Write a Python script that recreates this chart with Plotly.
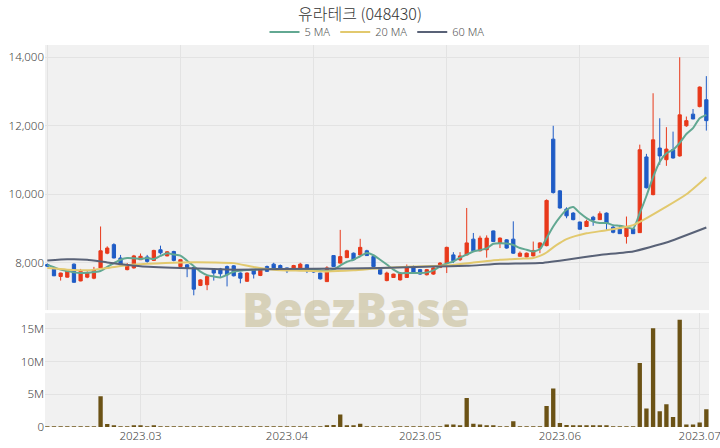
import pandas as pd
import plotly.graph_objects as go

# ---- trading calendar (categories) ----
holidays = ["2023-03-01", "2023-05-01", "2023-05-05", "2023-06-06"]
dates = [d.strftime("%Y-%m-%d") for d in pd.bdate_range("2023-02-09", "2023-07-04")
         if d.strftime("%Y-%m-%d") not in holidays]

# ---- OHLC ----
opens = [7950, 7820, 7600, 7580, 7960, 7470, 7580, 7550, 7850, 8280,
         8530, 8140, 7800, 7850, 8090, 8170, 8070, 8380, 8200, 8330,
         7890, 7940, 7860, 7340, 7360, 7800, 7820, 7890, 7910, 7700,
         7460, 7800, 7630, 7890, 7960, 7920, 7850, 7820, 7850, 7940,
         7800, 7700, 7450, 8210, 7990, 8150, 8280, 8230, 8350, 8180,
         7850, 7480, 7570, 7500, 7570, 7890, 7800, 7650, 7670, 7860,
         7990, 8230, 8090, 8230, 8690, 8350, 8380, 8930, 8580, 8670,
         8690, 8190, 8170, 8200, 8430, 8500, 11610, 10100, 9570, 9450,
         9190, 9060, 9330, 9260, 9450, 9040, 8980, 8770, 8990, 8880,
         11090, 9990, 11350, 11010, 11300, 11120, 12000, 12340, 12560, 12760]
highs = [7980, 7830, 7710, 7780, 7980, 7820, 7750, 7880, 9060, 8480,
         8570, 8230, 7990, 8230, 8270, 8230, 8380, 8500, 8340, 8350,
         8100, 7960, 7880, 7520, 7640, 7820, 7850, 7920, 7930, 7720,
         7720, 7810, 7820, 7920, 8000, 7950, 7860, 7940, 8000, 7960,
         7810, 7710, 7900, 8220, 8960, 8380, 8300, 8700, 8380, 8200,
         7860, 7740, 7680, 7700, 7950, 7920, 7820, 7820, 7870, 8020,
         8470, 8310, 8310, 9600, 8870, 8790, 8800, 8940, 8740, 8690,
         9210, 8330, 8300, 8620, 8600, 9850, 12000, 10120, 9620, 9480,
         9200, 9260, 9370, 9500, 9470, 9080, 9100, 9350, 9000, 11450,
         11180, 12950, 12220, 11960, 11830, 14000, 12270, 12490, 13150, 13450]
lows = [7880, 7610, 7480, 7570, 7420, 7460, 7550, 7520, 7840, 8250,
        8130, 7930, 7780, 7830, 8080, 8000, 8050, 8240, 8190, 8040,
        7880, 7580, 7050, 7320, 7200, 7480, 7580, 7310, 7600, 7400,
        7440, 7540, 7610, 7730, 7830, 7760, 7700, 7810, 7840, 7700,
        7710, 7510, 7440, 7880, 7980, 8140, 8070, 8220, 8200, 7880,
        7650, 7460, 7560, 7480, 7560, 7680, 7650, 7630, 7650, 7850,
        7700, 7990, 8050, 8220, 8330, 8330, 8150, 8610, 8430, 8410,
        8260, 8180, 8160, 8190, 8280, 8480, 10020, 9580, 9300, 9240,
        8970, 9050, 9080, 9250, 8960, 8860, 8840, 8560, 8840, 8870,
        10170, 9970, 10860, 10830, 11040, 11100, 11970, 12190, 12540, 11860]
closes = [7900, 7620, 7700, 7770, 7430, 7750, 7700, 7800, 8350, 8430,
          8140, 7940, 7940, 8200, 8190, 8040, 8360, 8290, 8320, 8070,
          8090, 7850, 7230, 7500, 7600, 7700, 7680, 7650, 7620, 7550,
          7700, 7670, 7800, 7750, 7850, 7820, 7770, 7920, 7960, 7770,
          7730, 7530, 7850, 7890, 8180, 8350, 8090, 8450, 8210, 7890,
          7670, 7700, 7670, 7680, 7890, 7700, 7670, 7800, 7850, 7990,
          8450, 8060, 8200, 8580, 8350, 8720, 8720, 8620, 8720, 8430,
          8280, 8280, 8280, 8360, 8580, 9820, 10050, 9600, 9370, 9260,
          8980, 9210, 9250, 9430, 9160, 8890, 8850, 9060, 8850, 11300,
          10190, 11590, 11120, 11320, 11060, 12320, 12150, 12200, 13130, 12150]

# ---- volume (shares) ----
volume = [60e3, 50e3, 40e3, 50e3, 60e3, 50e3, 40e3, 60e3, 4.69e6, 0.46e6,
          0.26e6, 0.10e6, 0.08e6, 0.15e6, 0.15e6, 0.12e6, 0.15e6, 0.12e6, 0.10e6, 0.05e6,
          0.05e6, 0.04e6, 0.05e6, 0.04e6, 0.04e6, 0.03e6, 0.03e6, 0.03e6, 0.03e6, 0.03e6,
          0.03e6, 0.03e6, 0.03e6, 0.03e6, 0.03e6, 0.03e6, 0.03e6, 0.03e6, 0.03e6, 0.03e6,
          0.10e6, 0.12e6, 0.20e6, 0.30e6, 1.90e6, 0.20e6, 0.15e6, 0.50e6, 0.10e6, 0.03e6,
          0.03e6, 0.02e6, 0.02e6, 0.02e6, 0.02e6, 0.02e6, 0.02e6, 0.02e6, 0.02e6, 0.03e6,
          0.37e6, 0.37e6, 0.20e6, 4.44e6, 0.50e6, 0.40e6, 0.25e6, 0.20e6, 0.10e6, 0.05e6,
          0.87e6, 0.03e6, 0.03e6, 0.08e6, 0.10e6, 3.21e6, 5.87e6, 0.62e6, 0.30e6, 0.20e6,
          0.20e6, 0.20e6, 0.20e6, 0.15e6, 0.15e6, 0.12e6, 0.05e6, 0.12e6, 0.05e6, 9.79e6,
          2.81e6, 15.1e6, 2.40e6, 3.47e6, 1.53e6, 16.4e6, 0.40e6, 0.40e6, 0.67e6, 2.70e6]

# ---- moving averages ----
ma5 = [7940, 7870, 7800, 7760, 7720, 7700, 7710, 7730, 7760, 7880,
       7990, 8090, 8140, 8130, 8110, 8140, 8110, 8200, 8280, 8240,
       8210, 8060, 7900, 7740, 7640, 7600, 7570, 7650, 7740, 7770,
       7790, 7800, 7810, 7815, 7815, 7815, 7815, 7815, 7815, 7815,
       7800, 7780, 7766, 7800, 7920, 8030, 8090, 8190, 8283, 8220,
       8090, 7950, 7800, 7700, 7700, 7700, 7700, 7720, 7780, 7893,
       7980, 8038, 8150, 8240, 8330, 8370, 8420, 8555, 8570, 8560,
       8520, 8430, 8380, 8330, 8400, 8720, 9060, 9334, 9548, 9627,
       9451, 9305, 9206, 9160, 9160, 9100, 9080, 9040, 9000, 9450,
       9950, 10500, 10950, 11200, 11300, 11500, 11760, 11930, 12220, 12320]
ma20_idx = [0, 3, 6, 9, 12, 15, 20, 25, 28, 31, 34, 38, 42, 46, 50, 55, 60, 64, 68,
            71, 73, 74, 75, 76, 77, 78, 81, 84, 88, 93, 96, 99]
ma20_val = [7845, 7800, 7780, 7850, 7930, 7970, 8010, 8010, 7990, 7880, 7800, 7770, 7746,
            7780, 7840, 7890, 7920, 8010, 8090, 8120, 8140, 8200, 8300, 8450, 8580, 8690,
            8860, 8950, 9100, 9640, 10000, 10500]
ma60_idx = [0, 3, 6, 9, 14, 20, 28, 35, 45, 50, 58, 63, 68, 74, 78, 83, 88, 93, 99]
ma60_val = [8068, 8100, 8090, 8010, 7900, 7850, 7800, 7815, 7830, 7850, 7890, 7910, 7970,
            7990, 8090, 8230, 8330, 8590, 9030]

month_ticks = ["2023-03-02", "2023-04-03", "2023-05-02", "2023-06-01", "2023-07-03"]
month_labels = ["2023.03", "2023.04", "2023.05", "2023.06", "2023.07"]

RED = "#e8391b"
BLUE = "#1f5cc6"
TICKFONT = dict(family="Noto Sans, sans-serif", size=11.5, color="#444", weight=300)

fig = go.Figure()
fig.add_trace(go.Candlestick(
    x=dates, open=opens, high=highs, low=lows, close=closes,
    increasing=dict(line=dict(color=RED, width=1), fillcolor=RED),
    decreasing=dict(line=dict(color=BLUE, width=1), fillcolor=BLUE),
    showlegend=False, xaxis="x", yaxis="y", whiskerwidth=0))
fig.add_trace(go.Scatter(x=dates, y=ma5, mode="lines", name="5 MA",
                         line=dict(color="#62a892", width=2, shape="spline", smoothing=0.6),
                         xaxis="x", yaxis="y"))
fig.add_trace(go.Scatter(x=[dates[i] for i in ma20_idx], y=ma20_val, mode="lines", name="20 MA",
                         line=dict(color="#e2c96e", width=2, shape="spline", smoothing=0.6),
                         xaxis="x", yaxis="y"))
fig.add_trace(go.Scatter(x=[dates[i] for i in ma60_idx], y=ma60_val, mode="lines", name="60 MA",
                         line=dict(color="#596277", width=2, shape="spline", smoothing=0.4),
                         xaxis="x", yaxis="y"))
fig.add_trace(go.Bar(x=dates, y=volume, marker=dict(color="#6b5215", line=dict(width=0)),
                     showlegend=False, xaxis="x2", yaxis="y2"))

xr = [-0.35, 99.4]
grid = "#e3e3e3"
fig.update_layout(
    width=720, height=448,
    margin=dict(l=45, r=11, t=45, b=21, autoexpand=False),
    paper_bgcolor="white", plot_bgcolor="#f1f1f1",
    font=dict(family="Noto Sans CJK KR, Noto Sans, sans-serif", size=12, color="#444"),
    title=dict(text="유라테크 (048430)", x=0.5, xanchor="center", yref="container",
               y=1 - 14 / 448, yanchor="middle",
               font=dict(family="Noto Sans CJK KR, sans-serif", size=16, color="#333", weight=300)),
    legend=dict(orientation="h", x=0.5, xanchor="center", yref="container",
                y=1 - 32 / 448, yanchor="middle",
                font=dict(family="Noto Sans, sans-serif", size=11, color="#555", weight=300),
                bgcolor="rgba(0,0,0,0)"),
    bargap=0.35,
    showlegend=True,
    xaxis=dict(type="category", domain=[0, 1], range=xr, anchor="y",
               showticklabels=False, tickmode="linear", tick0=0, dtick=20,
               showgrid=True, gridcolor=grid, rangeslider=dict(visible=False),
               zeroline=False, showline=False, automargin=False),
    yaxis=dict(domain=[0.306, 1], range=[6618, 14359], tickvals=[8000, 10000, 12000, 14000],
               tickformat=",", showgrid=True, gridcolor=grid, zeroline=False,
               ticks="", tickfont=TICKFONT, automargin=False),
    xaxis2=dict(type="category", domain=[0, 1], range=xr, anchor="y2",
                tickmode="array", tickvals=month_ticks, ticktext=month_labels,
                showgrid=True, gridcolor=grid, zeroline=False, ticks="",
                tickfont=TICKFONT, automargin=False),
    yaxis2=dict(domain=[0, 0.298], range=[0, 17.4e6], tickvals=[0, 5e6, 10e6, 15e6],
                ticktext=["0", "5M", "10M", "15M"], showgrid=True, gridcolor=grid,
                zeroline=False, ticks="", tickfont=TICKFONT, automargin=False),
)
fig.add_annotation(text="BeezBase", xref="paper", yref="paper", x=0.469, y=0.31,
                   xanchor="center", yanchor="middle", showarrow=False,
                   font=dict(family="Open Sans, Noto Sans, sans-serif", size=47,
                             color="#cdc4a2", weight=800),
                   opacity=0.7)

fig.write_html("out.html", config={"displayModeBar": False},
               post_script="document.body.style.margin='0';document.body.style.padding='0';")
